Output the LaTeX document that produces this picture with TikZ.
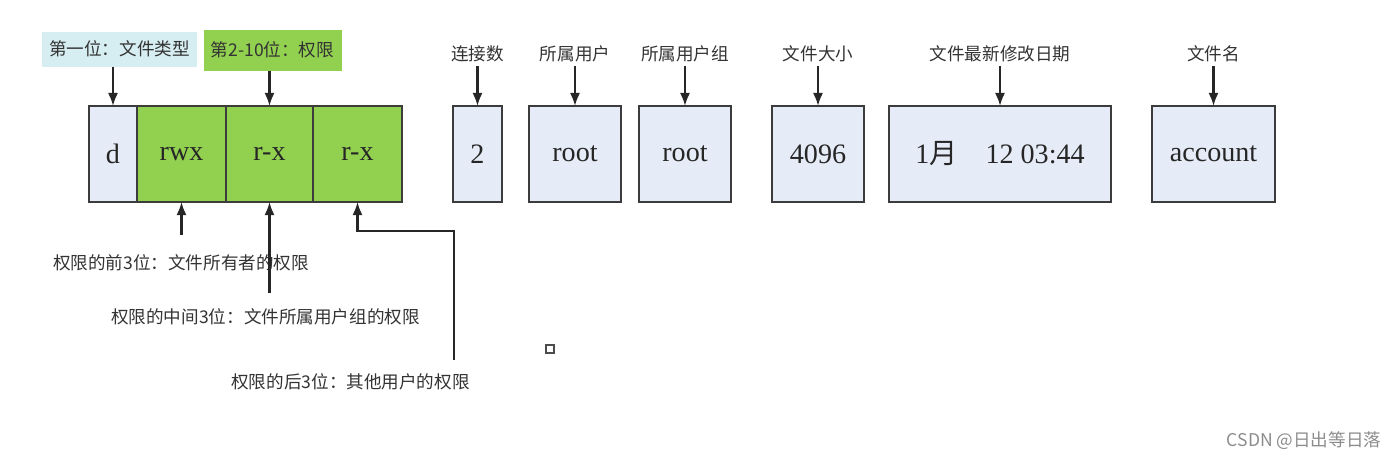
\documentclass[tikz,border=0pt]{standalone}
\usepackage{xcolor}
\usepackage{fontspec}
\setmainfont{Liberation Serif}
\newfontfamily\cjk{Noto Sans CJK SC}
\usepackage{tikz}
\usetikzlibrary{arrows.meta, positioning, calc}
\definecolor{cell-blue}{HTML}{E6ECF7}
\definecolor{tag-cyan}{HTML}{D6EDF2}
\definecolor{perm-green}{HTML}{92D050}
\definecolor{frame-gray}{HTML}{3C3C3C}

\begin{document}
\begin{tikzpicture}[
    cell/.style={draw=frame-gray, line width=1.3pt, fill=cell-blue, minimum height=1.92cm, inner sep=0pt, outer sep=0pt, font=\fontsize{16}{18}\selectfont, text=black!85},
    permcell/.style={cell, fill=perm-green},
    tag/.style={font=\cjk\fontsize{10}{12}\selectfont, text=black!80, inner sep=2pt},
    tagbox/.style={tag, minimum height=0.7cm, inner sep=0pt},
    link/.style={-{Latex[length=2.6mm, width=2mm]}, line width=1.2pt, draw=black!85}
]
    % --- Bounding box ---
    \useasboundingbox (0,0) rectangle (28,-9.24);

    % --- File type and permissions ---
    \node (d) [cell, minimum width=0.96cm] at (2.26,-3.08) {d};
    \node (rwx) [permcell, minimum width=1.78cm, right=0pt of d] {rwx};
    \node (rx1) [permcell, minimum width=1.74cm, right=0pt of rwx] {r-x};
    \node (rx2) [permcell, minimum width=1.78cm, right=0pt of rx1] {r-x};

    \node (type_tag) [tagbox, fill=tag-cyan, minimum width=3.1cm, above=0.78cm of d, xshift=0.13cm] {第一位：文件类型};
    \node (perm_tag) [tagbox, fill=perm-green, minimum width=2.76cm, minimum height=0.82cm, above=0.7cm of rx1, xshift=0.06cm] {第2-10位：权限};

    % --- Other columns ---
    \node (links) [cell, minimum width=0.98cm, right=1.02cm of rx2] {2};
    \node (owner) [cell, minimum width=1.84cm, right=0.54cm of links] {root};
    \node (group) [cell, minimum width=1.84cm, right=0.36cm of owner] {root};
    \node (size) [cell, minimum width=1.84cm, right=0.82cm of group] {4096};
    \node (date) [cell, minimum width=4.44cm, right=0.5cm of size] {1{\cjk 月}\quad 12 03:44};
    \node (name) [cell, minimum width=2.46cm, right=0.82cm of date] {account};

    \node (links_tag) [tag, above=0.8cm of links] {连接数};
    \node (owner_tag) [tag, above=0.8cm of owner] {所属用户};
    \node (group_tag) [tag, above=0.8cm of group] {所属用户组};
    \node (size_tag) [tag, above=0.8cm of size] {文件大小};
    \node (date_tag) [tag, above=0.8cm of date] {文件最新修改日期};
    \node (name_tag) [tag, above=0.8cm of name] {文件名};

    % --- Permission notes ---
    \node (own_note) [tag] at (3.62,-5.26) {权限的前3位：文件所有者的权限};
    \node (grp_note) [tag] at (5.31,-6.34) {权限的中间3位：文件所属用户组的权限};
    \node (oth_note) [tag] at (7.01,-7.64) {权限的后3位：其他用户的权限};
    \coordinate (oth_end) at (9.08,-7.20);

    \node (speck) [draw=black!70, line width=0.6pt, minimum size=0.16cm, inner sep=0pt] at (11.0,-6.98) {};
    \node (credit) [font=\cjk\fontsize{10}{12}\selectfont, text=black!45] at (26.08,-8.82) {CSDN @日出等日落};

    % --- Connections ---
    \draw [link] (d.north |- type_tag.south) -- (d.north);
    \draw [link] (rx1.north |- perm_tag.south) -- (rx1.north);
    \foreach \col in {links, owner, group, size, date, name}
        \draw [link] (\col_tag.south) -- (\col.north);

    \draw [link] ([yshift=-0.66cm]rwx.south) -- (rwx.south);
    \draw [link] ([yshift=-1.82cm]rx1.south) -- (rx1.south);
    \draw [link] (oth_end) |- ([yshift=-0.58cm]rx2.south) -- (rx2.south);

\end{tikzpicture}
\end{document}
